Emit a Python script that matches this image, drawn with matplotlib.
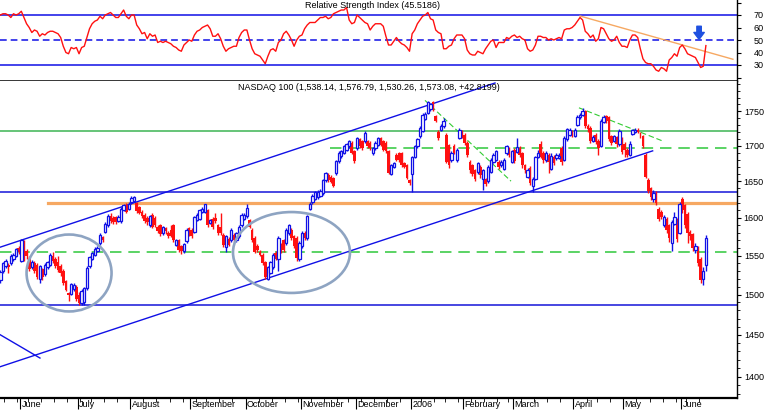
import matplotlib
matplotlib.use("Agg")
import matplotlib.pyplot as plt
import numpy as np
import pandas as pd
from matplotlib import font_manager
from matplotlib.patches import Ellipse
from matplotlib.ticker import FixedLocator, NullFormatter, FuncFormatter

# --- fuente estrecha, parecida a la del grafico original
names = {f.name for f in font_manager.fontManager.ttflist}
FONT = "Liberation Sans Narrow" if "Liberation Sans Narrow" in names else "Liberation Sans"
plt.rcParams["font.family"] = [FONT, "DejaVu Sans"]
FS = 6.5

# --- dias de negociacion (mayo 2005 - junio 2006)
holidays = ["2005-05-30", "2005-07-04", "2005-09-05", "2005-11-24", "2005-12-26",
            "2006-01-02", "2006-01-16", "2006-02-20", "2006-04-14", "2006-05-29"]
dates = pd.bdate_range("2005-05-19", "2006-06-14", freq="C", holidays=holidays)

month_labels = ["June", "July", "August", "September", "October", "November",
                "December", "2006", "February", "March", "April", "May", "June"]

# --- NASDAQ 100, valores diarios (un renglon por mes)
opens = [
    1518, 1530, 1536, 1538, 1540, 1545, 1550, 1560,
    1543, 1568, 1556, 1546, 1535, 1540, 1538, 1520, 1532, 1526, 1535, 1538, 1550, 1545, 1541, 1536, 1530, 1517, 1502, 1501, 1507, 1510,
    1500, 1489, 1490, 1508, 1536, 1546, 1551, 1556, 1566, 1574, 1581, 1590, 1603, 1600, 1601, 1596, 1595, 1611, 1617, 1612,
    1621, 1623, 1620, 1614, 1608, 1604, 1600, 1590, 1604, 1600, 1588, 1590, 1579, 1586, 1580, 1584, 1590, 1564, 1570, 1562, 1556, 1569, 1586,
    1584, 1581, 1597, 1599, 1608, 1608, 1610, 1593, 1599, 1600, 1590, 1588, 1577, 1561, 1572, 1570, 1577, 1570, 1575, 1590, 1599,
    1602, 1597, 1584, 1573, 1563, 1555, 1551, 1541, 1520, 1528, 1535, 1553, 1545, 1564, 1570, 1566, 1579, 1584, 1575, 1573, 1545,
    1562, 1580, 1573, 1612, 1621, 1626, 1628, 1630, 1633, 1651, 1659, 1656, 1654, 1661, 1678, 1685, 1690, 1694, 1699, 1704, 1692,
    1696, 1709, 1706, 1706, 1706, 1704, 1689, 1696, 1701, 1711, 1706, 1704, 1692, 1660, 1670, 1687, 1689, 1689, 1675, 1672, 1651,
    1660, 1684, 1699, 1714, 1721, 1739, 1748, 1753, 1763, 1743, 1719, 1723, 1728, 1716, 1701, 1680, 1699, 1680, 1711, 1721,
    1716, 1704, 1677, 1672, 1665, 1663, 1670, 1653, 1653, 1650, 1663, 1677, 1680, 1677, 1672, 1667, 1689, 1696, 1677,
    1694, 1691, 1697, 1689, 1672, 1656, 1669, 1643, 1653, 1684, 1703, 1690, 1679, 1687, 1667, 1684, 1682, 1683, 1696, 1680, 1710, 1716, 1720,
    1714, 1730, 1741, 1745, 1751, 1729, 1726, 1707, 1716, 1707, 1700, 1734, 1743, 1741, 1714, 1707, 1712, 1702, 1710,
    1703, 1694, 1687, 1717, 1720, 1722, 1716, 1714, 1687, 1652, 1640, 1626, 1632, 1612, 1608, 1590, 1598, 1590, 1567, 1592, 1598, 1580,
    1626, 1617, 1605, 1581, 1578, 1557, 1561, 1545, 1520, 1538.14,
]
highs = [
    1531, 1542, 1546, 1540, 1552, 1553, 1560, 1562,
    1572, 1570, 1558, 1549, 1544, 1543, 1540, 1538, 1534, 1540, 1543, 1553, 1555, 1548, 1549, 1539, 1533, 1519, 1503, 1515, 1515, 1512,
    1503, 1507, 1510, 1536, 1550, 1555, 1561, 1562, 1580, 1576, 1594, 1605, 1606, 1602, 1603, 1604, 1614, 1619, 1620, 1621,
    1629, 1630, 1622, 1616, 1610, 1607, 1602, 1604, 1606, 1602, 1590, 1592, 1589, 1588, 1582, 1590, 1592, 1572, 1572, 1564, 1567, 1586, 1588,
    1586, 1603, 1606, 1612, 1614, 1619, 1612, 1599, 1601, 1606, 1592, 1606, 1579, 1577, 1574, 1586, 1579, 1581, 1590, 1606, 1606,
    1619, 1599, 1586, 1575, 1565, 1557, 1553, 1543, 1537, 1543, 1553, 1556, 1575, 1567, 1572, 1586, 1592, 1586, 1577, 1575, 1569,
    1582, 1582, 1604, 1622, 1632, 1637, 1638, 1639, 1653, 1663, 1661, 1658, 1656, 1680, 1692, 1694, 1701, 1704, 1708, 1706, 1694,
    1713, 1711, 1708, 1721, 1708, 1706, 1698, 1706, 1713, 1713, 1708, 1706, 1694, 1674, 1677, 1689, 1691, 1691, 1677, 1674, 1653,
    1686, 1701, 1711, 1728, 1747, 1749, 1765, 1762, 1765, 1745, 1722, 1731, 1740, 1718, 1703, 1692, 1702, 1697, 1726, 1723,
    1718, 1706, 1679, 1674, 1667, 1677, 1672, 1667, 1655, 1672, 1682, 1689, 1694, 1679, 1679, 1682, 1701, 1698, 1694,
    1696, 1711, 1699, 1691, 1674, 1668, 1671, 1656, 1686, 1694, 1706, 1692, 1692, 1689, 1690, 1687, 1690, 1689, 1699, 1714, 1726, 1726, 1722,
    1726, 1744, 1748, 1754, 1752, 1731, 1728, 1716, 1718, 1709, 1738, 1744, 1745, 1743, 1716, 1716, 1714, 1724, 1713,
    1705, 1696, 1706, 1724, 1726, 1725, 1719, 1716, 1689, 1655, 1642, 1638, 1636, 1614, 1611, 1604, 1601, 1592, 1597, 1608, 1600, 1622,
    1628, 1619, 1608, 1584, 1580, 1566, 1563, 1548, 1535, 1576.79,
]
lows = [
    1514, 1528, 1534, 1527, 1538, 1543, 1548, 1552,
    1541, 1543, 1546, 1530, 1532, 1527, 1520, 1515, 1519, 1524, 1532, 1536, 1540, 1534, 1529, 1524, 1512, 1504, 1492, 1499, 1505, 1492,
    1487, 1487, 1487, 1506, 1534, 1544, 1549, 1554, 1564, 1568, 1579, 1588, 1593, 1592, 1591, 1594, 1593, 1609, 1606, 1610,
    1619, 1621, 1607, 1605, 1600, 1593, 1590, 1588, 1586, 1588, 1580, 1576, 1577, 1578, 1573, 1574, 1568, 1562, 1555, 1552, 1553, 1567, 1575,
    1573, 1579, 1595, 1597, 1606, 1606, 1588, 1591, 1585, 1593, 1577, 1577, 1561, 1555, 1562, 1568, 1568, 1568, 1573, 1588, 1597,
    1600, 1586, 1568, 1553, 1555, 1549, 1538, 1520, 1518, 1526, 1533, 1544, 1530, 1553, 1555, 1564, 1577, 1571, 1560, 1543, 1543,
    1560, 1571, 1571, 1610, 1619, 1624, 1626, 1628, 1631, 1649, 1649, 1647, 1642, 1659, 1676, 1683, 1688, 1692, 1697, 1688, 1675,
    1694, 1697, 1694, 1704, 1697, 1694, 1687, 1694, 1699, 1699, 1692, 1690, 1660, 1658, 1668, 1678, 1677, 1670, 1668, 1653, 1645,
    1635, 1682, 1697, 1711, 1719, 1737, 1746, 1751, 1751, 1734, 1708, 1721, 1726, 1675, 1668, 1677, 1688, 1677, 1709, 1711,
    1701, 1684, 1662, 1657, 1650, 1660, 1655, 1638, 1643, 1648, 1661, 1675, 1678, 1667, 1670, 1665, 1687, 1684, 1675,
    1675, 1689, 1684, 1669, 1662, 1654, 1645, 1635, 1651, 1682, 1682, 1676, 1677, 1662, 1665, 1673, 1680, 1681, 1672, 1678, 1707, 1714, 1712,
    1712, 1728, 1739, 1743, 1726, 1720, 1704, 1705, 1702, 1687, 1698, 1732, 1733, 1706, 1701, 1705, 1698, 1700, 1688,
    1684, 1684, 1685, 1715, 1718, 1718, 1711, 1696, 1654, 1633, 1624, 1622, 1617, 1596, 1598, 1588, 1580, 1568, 1556, 1590, 1568, 1578,
    1606, 1586, 1566, 1571, 1556, 1553, 1536, 1514, 1512, 1530.26,
]
closes = [
    1529, 1540, 1543, 1535, 1550, 1551, 1558, 1555,
    1570, 1545, 1549, 1533, 1541, 1530, 1522, 1536, 1522, 1538, 1541, 1551, 1543, 1537, 1531, 1527, 1515, 1506, 1499, 1513, 1512, 1494,
    1489, 1505, 1508, 1534, 1548, 1553, 1559, 1560, 1577, 1570, 1592, 1603, 1595, 1594, 1594, 1601, 1612, 1617, 1608, 1619,
    1627, 1628, 1609, 1607, 1602, 1595, 1594, 1602, 1588, 1590, 1582, 1578, 1587, 1582, 1575, 1576, 1570, 1570, 1557, 1556, 1565, 1584, 1577,
    1575, 1601, 1604, 1610, 1612, 1618, 1590, 1597, 1588, 1595, 1579, 1579, 1564, 1575, 1564, 1584, 1570, 1579, 1588, 1604, 1604,
    1613, 1588, 1570, 1555, 1557, 1551, 1540, 1522, 1535, 1541, 1551, 1546, 1573, 1555, 1557, 1584, 1590, 1573, 1562, 1547, 1567,
    1580, 1573, 1602, 1619, 1630, 1635, 1635, 1637, 1651, 1661, 1651, 1649, 1644, 1678, 1690, 1692, 1699, 1702, 1706, 1690, 1678,
    1711, 1699, 1696, 1718, 1699, 1696, 1696, 1704, 1711, 1701, 1694, 1692, 1662, 1672, 1675, 1680, 1680, 1672, 1670, 1655, 1647,
    1684, 1699, 1709, 1726, 1745, 1746, 1763, 1760, 1753, 1736, 1711, 1729, 1736, 1677, 1672, 1689, 1690, 1694, 1723, 1714,
    1704, 1687, 1665, 1660, 1653, 1675, 1658, 1665, 1646, 1670, 1680, 1687, 1692, 1670, 1677, 1680, 1699, 1687, 1692,
    1678, 1698, 1687, 1672, 1665, 1666, 1647, 1653, 1684, 1690, 1684, 1679, 1690, 1677, 1686, 1676, 1687, 1686, 1677, 1711, 1724, 1722, 1715,
    1723, 1741, 1745, 1751, 1728, 1724, 1707, 1713, 1705, 1696, 1736, 1741, 1736, 1709, 1704, 1714, 1702, 1721, 1691,
    1694, 1687, 1703, 1722, 1723, 1720, 1715, 1700, 1656, 1636, 1628, 1634, 1620, 1599, 1601, 1601, 1584, 1573, 1594, 1601, 1572, 1618,
    1610, 1590, 1580, 1576, 1560, 1563, 1540, 1518, 1530.26, 1573.08,
]

rsi = [
    70, 71, 71, 70, 68, 71, 70, 71, 73, 68,
    63, 60, 56, 58, 57, 53, 55, 54, 56, 57,
    57, 56, 55, 52, 45, 40, 39, 44, 43, 44,
    39, 44, 45, 52, 59, 63, 65, 66, 69, 67,
    70, 71, 72, 70, 68, 68, 71, 74, 69, 67,
    70, 70, 62, 59, 55, 56, 51, 55, 53, 54,
    48, 49, 48, 49, 48, 47, 45, 44, 42, 41,
    46, 48, 50, 49, 54, 57, 58, 60, 61, 62,
    59, 53, 53, 55, 51, 45, 41, 43, 44, 45,
    45, 52, 56, 58, 58, 50, 43, 39, 38, 37,
    34, 31, 37, 42, 43, 41, 48, 50, 55, 57,
    54, 50, 45, 50, 53, 54, 59, 62, 64, 64,
    64, 66, 68, 68, 69, 67, 68, 71, 72, 73,
    74, 74, 76, 66, 63, 64, 70, 68, 66, 64,
    63, 58, 61, 63, 63, 63, 61, 53, 46, 46,
    49, 52, 49, 47, 46, 44, 41, 55, 58, 63,
    66, 69, 70, 72, 67, 66, 58, 56, 55, 43,
    43, 45, 46, 51, 54, 54, 54, 51, 42, 39,
    38, 38, 41, 40, 39, 43, 46, 49, 50, 44,
    48, 48, 48, 52, 51, 53, 54, 52, 53, 51,
    50, 43, 41, 42, 46, 53, 53, 52, 52, 50,
    51, 50, 51, 52, 51, 58, 59, 59, 60, 62,
    65, 68, 66, 57, 55, 52, 54, 49, 51, 60,
    59, 55, 51, 49, 50, 53, 48, 45, 45, 44,
    50, 54, 54, 52, 43, 35, 32, 31, 31, 29,
    26, 25, 28, 27, 25, 34, 36, 39, 37, 44,
    46, 43, 39, 38, 37, 36, 32, 28, 29, 45.5186,
]

# --- lineas de analisis tecnico (indice de dia, precio)
upper_channel = [(0, 1561), (188.6, 1792)]
lower_channel = [(0, 1411.7), (248.7, 1692.6)]
short_down = [(0, 1450), (15.1, 1422)]
jan_trend = [(161.9, 1766), (194.7, 1650)]
apr_trend = [(220.6, 1755), (252.3, 1707)]
rsi_trend = [(221, 69.2), (279.3, 34.6)]
# (precio, dia inicial, color, estilo)
levels = [
    (1721, 0, "#3cb454", "-"),
    (1696, 125.7, "#2ec83a", "dash"),
    (1635, 0, "#1515d8", "-"),
    (1554, 0, "#2ec83a", "dash"),
    (1487, 0, "#1515d8", "-"),
]
orange_level = (1620, 18.2)
# (dia centro, medio ancho en dias, precio arriba, precio abajo)
circles = [(26.2, 16.2, 1577.6, 1478.8), (111.0, 22.3, 1607.7, 1502.0)]

BLUE = "#1010e6"
RED = "#ff1010"
ORANGE = "#f6a862"

o = np.array(opens, float)
h = np.array(highs, float)
l = np.array(lows, float)
c = np.array(closes, float)
x = np.arange(len(c))
XLIM = (-0.13, 280.86)

fig = plt.figure(figsize=(7.7, 4.12), dpi=100)
ax_r = fig.add_axes([0, 331 / 412, 737 / 770, 81 / 412])
ax = fig.add_axes([0, 14 / 412, 737 / 770, 317 / 412])

# ---------------- panel RSI
ax_r.plot(x, rsi, color=RED, lw=1.0, zorder=3)
ax_r.axhline(70, color=BLUE, lw=1.1)
ax_r.axhline(30, color=BLUE, lw=1.1)
ax_r.axhline(50, color=BLUE, lw=1.1, ls=(0, (4.4, 2.6)))
ax_r.plot(*zip(*rsi_trend), color=ORANGE, lw=1.0, zorder=2)
ax_r.annotate("", xy=(266.4, 50.5), xytext=(266.4, 61),
              arrowprops=dict(arrowstyle="simple,head_width=0.75,head_length=0.5,tail_width=0.32",
                              color="#1e50e0", mutation_scale=10, shrinkA=0, shrinkB=0))
ax_r.set_xlim(*XLIM)
ax_r.set_ylim(17.2, 82)
ax_r.set_yticks([20, 30, 40, 50, 60, 70, 80])
ax_r.set_yticklabels(["", "30", "40", "50", "60", "70", ""])
ax_r.yaxis.tick_right()
ax_r.tick_params(axis="y", direction="out", length=3, width=0.8, pad=16.4, labelsize=FS)
ax_r.tick_params(axis="x", bottom=False, labelbottom=False)
for t in ax_r.get_yticklabels():
    t.set_horizontalalignment("right")
for s in ("left", "top"):
    ax_r.spines[s].set_visible(False)
ax_r.spines["right"].set_linewidth(1.0)
ax_r.spines["bottom"].set_linewidth(1.1)
ax_r.text(0.505, 0.93, "Relative Strength Index (45.5186)", transform=ax_r.transAxes,
          ha="center", va="center", fontsize=FS)

# ---------------- panel de precios
ax.set_yscale("log")
ax.set_xlim(*XLIM)
ax.set_ylim(1375, 1795)

for price, start, col, style in levels:
    ls = (0, (7.5, 4.5)) if style == "dash" else "-"
    ax.plot([start, XLIM[1]], [price, price], color=col, lw=1.1, ls=ls, zorder=1)
ax.plot([orange_level[1], XLIM[1]], [orange_level[0]] * 2, color=ORANGE, lw=2.3, zorder=1)
for seg in (upper_channel, lower_channel, short_down):
    ax.plot(*zip(*seg), color=BLUE, lw=1.0, zorder=1)
for seg in (jan_trend, apr_trend):
    ax.plot(*zip(*seg), color="#33cc33", lw=0.8, ls=(0, (5, 2.5)), zorder=1)

up = c >= o
ax.vlines(x[up], l[up], h[up], color=BLUE, lw=1.0, zorder=2)
ax.vlines(x[~up], l[~up], h[~up], color=RED, lw=1.0, zorder=2)
ax.bar(x[~up], (o - c)[~up], bottom=c[~up], width=1.0, color=RED, linewidth=0, zorder=3)
ax.bar(x[up], (c - o)[up], bottom=o[up], width=0.9, facecolor="white",
       edgecolor=BLUE, linewidth=0.9, zorder=3)

# circulos de resalte (en coordenadas de ejes para que salgan como elipses)
to_ax = ax.transData + ax.transAxes.inverted()
for ic, hw, ptop, pbot in circles:
    (x0, y0), (x1, y1) = to_ax.transform([(ic - hw, pbot), (ic + hw, ptop)])
    ax.add_patch(Ellipse(((x0 + x1) / 2, (y0 + y1) / 2), x1 - x0, y1 - y0,
                         transform=ax.transAxes, fill=False, ec="#8ea4c2", lw=1.9, zorder=4))

# eje y a la derecha
ax.yaxis.set_major_locator(FixedLocator([1400, 1450, 1500, 1550, 1600, 1650, 1700, 1750]))
ax.yaxis.set_minor_locator(FixedLocator(np.arange(1380, 1800, 10)))
ax.yaxis.set_major_formatter(FuncFormatter(lambda v, p: f"{v:.0f}"))
ax.yaxis.set_minor_formatter(NullFormatter())
ax.yaxis.tick_right()
ax.tick_params(axis="y", which="major", direction="out", length=3, width=0.8, pad=16.4, labelsize=FS)
ax.tick_params(axis="y", which="minor", direction="out", length=1.8, width=0.6)
for t in ax.get_yticklabels():
    t.set_horizontalalignment("right")

# eje x: meses y semanas
month_pos = [i - 0.5 for i in range(1, len(dates)) if dates[i].month != dates[i - 1].month]
week_pos = [i - 0.5 for i in range(1, len(dates)) if dates[i].weekday() < dates[i - 1].weekday()]
ax.set_xticks(month_pos)
ax.set_xticks(week_pos, minor=True)
ax.tick_params(axis="x", which="major", direction="out", length=8, width=0.8, labelbottom=False)
ax.tick_params(axis="x", which="minor", direction="out", length=3, width=0.6)
for pos, name in zip(month_pos, month_labels):
    ax.annotate(name, xy=(pos, 0), xycoords=("data", "axes fraction"), xytext=(1.0, -1.6),
                textcoords="offset points", ha="left", va="top", fontsize=FS)

for s in ("left", "top"):
    ax.spines[s].set_visible(False)
ax.spines["right"].set_linewidth(1.0)
ax.spines["bottom"].set_linewidth(1.6)

ax.text(0.5, 0.98, "NASDAQ 100 (1,538.14, 1,576.79, 1,530.26, 1,573.08, +42.8199)",
        transform=ax.transAxes, ha="center", va="center", fontsize=FS)

fig.savefig("out.png", dpi=100)
